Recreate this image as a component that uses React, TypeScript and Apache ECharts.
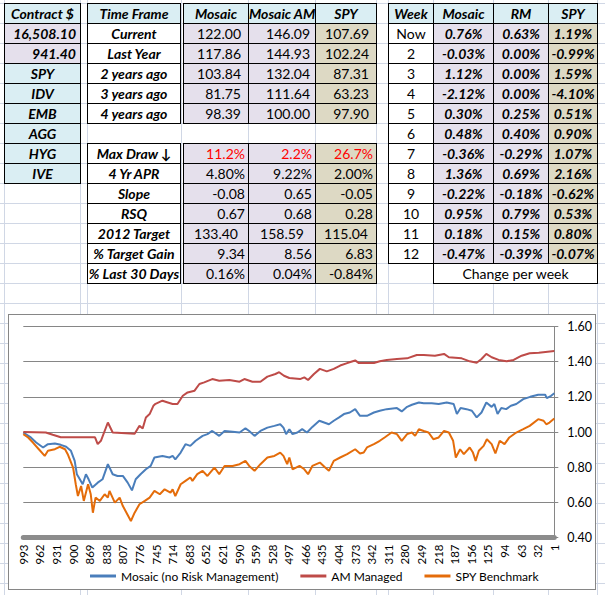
import React, { useEffect, useRef } from "react";
import * as echarts from "echarts";

const FONT = 'Lato, "Open Sans", "Noto Sans", "DejaVu Sans", sans-serif';

// ---------- table texts ----------
const contractHeader = "Contract $";
const contractItems = ["16,508.10", "941.40", "SPY", "IDV", "EMB", "AGG", "HYG", "IVE"];
const timeHeaders = ["Time Frame", "Mosaic", "Mosaic AM", "SPY"];
const timeFrames = ["Current", "Last Year", "2 years ago", "3 years ago", "4 years ago"];
const tfMosaic = ["122.00", "117.86", "103.84", "81.75", "98.39"];
const tfAM = ["146.09", "144.93", "132.04", "111.64", "100.00"];
const tfSPY = ["107.69", "102.24", "87.31", "63.23", "97.90"];
const statLabels = ["Max Draw \u2193", "4 Yr APR", "Slope", "RSQ", "2012 Target", "% Target Gain", "% Last 30 Days"];
const statMosaic = ["11.2%", "4.80%", "-0.08", "0.67", "133.40", "9.34", "0.16%"];
const statAM = ["2.2%", "9.22%", "0.65", "0.68", "158.59", "8.56", "0.04%"];
const statSPY = ["26.7%", "2.00%", "-0.05", "0.28", "115.04", "6.83", "-0.84%"];
const weekHeaders = ["Week", "Mosaic", "RM", "SPY"];
const weeks = ["Now", "2", "3", "4", "5", "6", "7", "8", "9", "10", "11", "12"];
const weekMosaic = ["0.76%", "-0.03%", "1.12%", "-2.12%", "0.30%", "0.48%", "-0.36%", "1.36%", "-0.22%", "0.95%", "0.18%", "-0.47%"];
const weekRM = ["0.63%", "0.00%", "0.00%", "0.00%", "0.25%", "0.40%", "-0.29%", "0.69%", "-0.18%", "0.79%", "0.15%", "-0.39%"];
const weekSPY = ["1.19%", "-0.99%", "1.59%", "-4.10%", "0.51%", "0.90%", "1.07%", "2.16%", "-0.62%", "0.53%", "0.80%", "-0.07%"];
const weekFooter = "Change per week";

// ---------- chart data (x = days back) ----------
const seriesNames = ["Mosaic (no Risk Management)", "AM Managed", "SPY Benchmark"];
const yTicks = [0.4, 0.6, 0.8, 1.0, 1.2, 1.4, 1.6];

const mosaicDays = [993,979,969,956,947,934,923,913,904,897,893,889,882,876,871,864,854,845,835,826,817,807,798,790,783,774,764,755,748,733,720,714,709,699,690,681,671,658,649,640,627,617,602,589,578,571,561,550,537,524,513,507,502,496,490,481,472,463,453,440,431,422,413,403,394,383,373,364,351,338,327,314,295,286,276,267,254,245,230,217,202,189,183,176,165,155,146,137,128,118,113,107,100,91,82,72,59,46,31,18,15,7,1];
const mosaic = [0.997,0.969,0.94,0.912,0.931,0.935,0.927,0.916,0.893,0.836,0.76,0.74,0.703,0.76,0.731,0.684,0.712,0.731,0.817,0.76,0.75,0.75,0.712,0.668,0.731,0.76,0.788,0.807,0.855,0.864,0.855,0.864,0.845,0.883,0.931,0.921,0.95,0.978,0.988,1.006,0.978,1.006,1.002,0.997,1.021,1.006,0.978,1.006,1.025,1.035,1.044,1.025,0.988,1.016,0.988,0.997,1.016,0.997,1.029,1.064,1.054,1.044,1.064,1.083,1.102,1.111,1.13,1.092,1.092,1.111,1.121,1.13,1.136,1.117,1.143,1.155,1.168,1.163,1.163,1.159,1.168,1.159,1.102,1.136,1.13,1.121,1.083,1.111,1.168,1.143,1.159,1.102,1.136,1.13,1.149,1.159,1.187,1.2,1.212,1.212,1.193,1.206,1.22];

const amDays = [993,951,938,923,859,854,848,835,826,785,776,770,764,757,750,746,733,723,714,705,695,686,673,664,655,640,627,608,589,580,565,550,537,522,515,506,496,476,468,461,450,439,426,413,401,388,373,366,338,327,314,295,276,258,245,224,207,198,174,159,146,137,128,118,105,90,77,62,47,30,1];
const am = [1.0,0.997,0.984,0.97,0.97,0.931,0.95,1.054,0.997,0.99,1.035,1.02,1.083,1.102,1.149,1.16,1.178,1.168,1.159,1.159,1.206,1.225,1.235,1.273,1.282,1.301,1.292,1.296,1.286,1.301,1.286,1.286,1.315,1.33,1.34,1.32,1.307,1.301,1.311,1.296,1.33,1.359,1.345,1.359,1.378,1.392,1.407,1.392,1.392,1.402,1.41,1.415,1.419,1.438,1.438,1.434,1.444,1.425,1.419,1.402,1.394,1.415,1.444,1.425,1.41,1.402,1.41,1.434,1.448,1.451,1.461];

const spyDays = [993,984,975,964,953,947,934,925,915,910,900,895,891,885,880,872,867,863,858,850,841,835,832,822,813,807,802,792,785,776,766,757,748,738,729,718,714,709,699,690,681,677,668,658,649,636,627,617,602,589,578,571,561,550,537,524,513,507,500,496,490,477,468,461,453,439,429,422,413,401,388,373,364,357,351,338,327,318,305,295,286,276,267,261,254,245,236,227,217,207,198,190,185,177,170,159,153,148,142,133,127,118,111,103,94,85,72,59,47,31,21,16,10,1];
const spy = [0.988,0.969,0.94,0.902,0.864,0.893,0.902,0.916,0.902,0.874,0.798,0.703,0.636,0.693,0.608,0.703,0.646,0.541,0.627,0.608,0.646,0.627,0.665,0.598,0.627,0.579,0.551,0.494,0.541,0.589,0.608,0.627,0.665,0.646,0.674,0.655,0.674,0.636,0.703,0.722,0.741,0.722,0.76,0.779,0.75,0.798,0.76,0.807,0.807,0.817,0.836,0.807,0.779,0.817,0.855,0.864,0.883,0.864,0.817,0.855,0.788,0.807,0.788,0.76,0.807,0.826,0.798,0.779,0.836,0.855,0.874,0.902,0.878,0.883,0.912,0.931,0.95,0.969,0.997,0.988,0.95,0.988,0.997,0.978,1.016,1.006,0.997,0.959,0.969,1.006,0.997,0.95,0.855,0.902,0.874,0.912,0.883,0.836,0.893,0.921,0.959,0.931,0.878,0.95,0.931,0.969,0.997,1.016,1.035,1.073,1.064,1.044,1.054,1.077];

const seriesColors = ["#4A7EBB", "#BE4B48", "#E46C0A"];

// ---------- styles ----------
const BLUE = "#DAEEF3";
const LAV = "#E5E0EC";
const TAN = "#DDD9C4";
const GRID = "#D0D7E5";
const ROW0 = 3;
const RH = 20;
const FS = 14;

type CellProps = {
  x1: number; x2: number; r: number; text: string;
  bg?: string; align?: "left" | "center" | "right";
  bold?: boolean; italic?: boolean; color?: string; pad?: number;
};

function Cell({ x1, x2, r, text, bg = "#fff", align = "center", bold = false, italic = false, color = "#000", pad = 3 }: CellProps) {
  const y1 = ROW0 + r * RH;
  const h = RH + 1;
  return (
    <div
      style={{
        position: "absolute",
        left: x1,
        top: y1,
        width: x2 - x1 + 1,
        height: h,
        border: "1px solid #000",
        boxSizing: "border-box",
        background: bg,
        fontFamily: FONT,
        fontSize: FS,
        fontWeight: bold ? 700 : 400,
        fontStyle: italic ? "italic" : "normal",
        color,
        textAlign: align,
        lineHeight: `${h - 1}px`,
        paddingLeft: align === "left" ? pad : 0,
        paddingRight: align === "right" ? pad : 0,
        whiteSpace: "nowrap",
        overflow: "hidden",
      }}
    >
      {text}
    </div>
  );
}

function Chart() {
  const ref = useRef<HTMLDivElement>(null);
  useEffect(() => {
    if (!ref.current) return;
    const chart = echarts.init(ref.current, null, { renderer: "svg" });
    const toPairs = (days: number[], vals: number[]) => days.map((d, i) => [d - 1, vals[i]]);
    const option = {
      animation: false,
      textStyle: { fontFamily: FONT },
      grid: { left: 14.3, right: 39.3, top: 11.5, bottom: 51.5 },
      xAxis: {
        type: "value",
        min: 0,
        max: 992,
        interval: 31,
        inverse: true,
        axisLine: { show: true, onZero: false, lineStyle: { color: "#8C8C8C", width: 5 } },
        axisTick: { show: false },
        splitLine: { show: false },
        axisLabel: {
          rotate: 90,
          margin: 7,
          fontSize: 11.5,
          color: "#000",
          fontFamily: FONT,
          showMinLabel: true,
          showMaxLabel: true,
          hideOverlap: false,
          formatter: (v: number) => String(Math.round(v) + 1),
        },
      },
      yAxis: {
        type: "value",
        position: "right",
        min: yTicks[0],
        max: yTicks[yTicks.length - 1],
        interval: 0.2,
        axisLine: { show: true, lineStyle: { color: "#868686", width: 1 } },
        axisTick: { show: true, length: 4, lineStyle: { color: "#868686" } },
        splitLine: { show: true, lineStyle: { color: "#868686", width: 1 } },
        axisLabel: {
          margin: 13,
          fontSize: 12.5,
          color: "#000",
          fontFamily: FONT,
          formatter: (v: number) => v.toFixed(2),
        },
      },
      legend: {
        data: seriesNames,
        left: 76,
        top: 250,
        icon: "rect",
        itemWidth: 26,
        itemHeight: 3,
        itemGap: 22,
        textStyle: { fontSize: 12, color: "#000", fontFamily: FONT },
      },
      series: [
        { data: toPairs(mosaicDays, mosaic) },
        { data: toPairs(amDays, am) },
        { data: toPairs(spyDays, spy) },
      ].map((s, i) => ({
        name: seriesNames[i],
        type: "line",
        data: s.data,
        showSymbol: false,
        symbol: "none",
        lineStyle: { width: 2, color: seriesColors[i] },
        itemStyle: { color: seriesColors[i] },
      })),
    };
    chart.setOption(option as any);
    return () => chart.dispose();
  }, []);
  return <div ref={ref} style={{ width: 586, height: 274 }} />;
}

export default function App() {
  const hLines: number[] = [];
  for (let k = 0; k < 30; k++) hLines.push(ROW0 + k * RH);
  const vLines = [4, 80, 87, 181, 248, 315, 376, 388, 433, 493, 548, 597];

  const cells: React.ReactNode[] = [];
  // Contract table
  cells.push(<Cell key="c-h" x1={4} x2={80} r={0} text={contractHeader} bg={BLUE} bold italic />);
  contractItems.forEach((t, i) => {
    const isNum = i < 2;
    cells.push(
      <Cell key={"c" + i} x1={4} x2={80} r={i + 1} text={t} bg={isNum ? LAV : BLUE} bold italic align={isNum ? "right" : "center"} pad={4} />
    );
  });
  // Time frame table
  const cols = [
    [87, 180],
    [183, 248],
    [248, 315],
    [315, 376],
  ];
  timeHeaders.forEach((t, i) => {
    cells.push(<Cell key={"th" + i} x1={cols[i][0]} x2={cols[i][1]} r={0} text={t} bg={BLUE} bold italic />);
  });
  timeFrames.forEach((t, i) => {
    const r = i + 1;
    cells.push(<Cell key={"tl" + i} x1={cols[0][0]} x2={cols[0][1]} r={r} text={t} bold italic />);
    cells.push(<Cell key={"tm" + i} x1={cols[1][0]} x2={cols[1][1]} r={r} text={tfMosaic[i]} bg={LAV} align="right" pad={7} />);
    cells.push(<Cell key={"ta" + i} x1={cols[2][0]} x2={cols[2][1]} r={r} text={tfAM[i]} bg={LAV} align="right" pad={5} />);
    cells.push(<Cell key={"ts" + i} x1={cols[3][0]} x2={cols[3][1]} r={r} text={tfSPY[i]} bg={TAN} align="right" pad={7} />);
  });
  statLabels.forEach((t, i) => {
    const r = i + 7;
    const red = i === 0 ? "#FF0000" : "#000";
    const al = i === 4 ? "center" : "right";
    cells.push(<Cell key={"sl" + i} x1={cols[0][0]} x2={cols[0][1]} r={r} text={t} bold italic />);
    cells.push(<Cell key={"sm" + i} x1={cols[1][0]} x2={cols[1][1]} r={r} text={statMosaic[i]} bg={LAV} align={al} color={red} pad={3} />);
    cells.push(<Cell key={"sa" + i} x1={cols[2][0]} x2={cols[2][1]} r={r} text={statAM[i]} bg={LAV} align={al} color={red} pad={3} />);
    cells.push(<Cell key={"ss" + i} x1={cols[3][0]} x2={cols[3][1]} r={r} text={statSPY[i]} bg={TAN} align={al} color={red} pad={3} />);
  });
  // Week table
  const wcols = [
    [388, 433],
    [433, 493],
    [493, 548],
    [548, 597],
  ];
  weekHeaders.forEach((t, i) => {
    cells.push(<Cell key={"wh" + i} x1={wcols[i][0]} x2={wcols[i][1]} r={0} text={t} bg={BLUE} bold italic />);
  });
  weeks.forEach((t, i) => {
    const r = i + 1;
    cells.push(<Cell key={"wl" + i} x1={wcols[0][0]} x2={wcols[0][1]} r={r} text={t} />);
    cells.push(<Cell key={"wm" + i} x1={wcols[1][0]} x2={wcols[1][1]} r={r} text={weekMosaic[i]} bg={LAV} bold italic />);
    cells.push(<Cell key={"wr" + i} x1={wcols[2][0]} x2={wcols[2][1]} r={r} text={weekRM[i]} bg={LAV} bold italic />);
    cells.push(<Cell key={"ws" + i} x1={wcols[3][0]} x2={wcols[3][1]} r={r} text={weekSPY[i]} bg={TAN} bold italic />);
  });
  cells.push(<Cell key="wf" x1={433} x2={597} r={13} text={weekFooter} />);

  return (
    <div
      style={{
        position: "absolute",
        left: 0,
        top: 0,
        width: 605,
        height: 595,
        background: "#fff",
        overflow: "hidden",
        fontFamily: FONT,
      }}
    >
      {hLines.map((y) => (
        <div key={"h" + y} style={{ position: "absolute", left: 0, top: y, width: 605, height: 1, background: GRID }} />
      ))}
      {vLines.map((x) => (
        <div key={"v" + x} style={{ position: "absolute", left: x, top: 0, width: 1, height: 595, background: GRID }} />
      ))}
      {cells}
      <div
        style={{
          position: "absolute",
          left: 8,
          top: 314,
          width: 588,
          height: 276,
          border: "1px solid #868686",
          boxSizing: "border-box",
          background: "#fff",
        }}
      >
        <Chart />
      </div>
    </div>
  );
}
